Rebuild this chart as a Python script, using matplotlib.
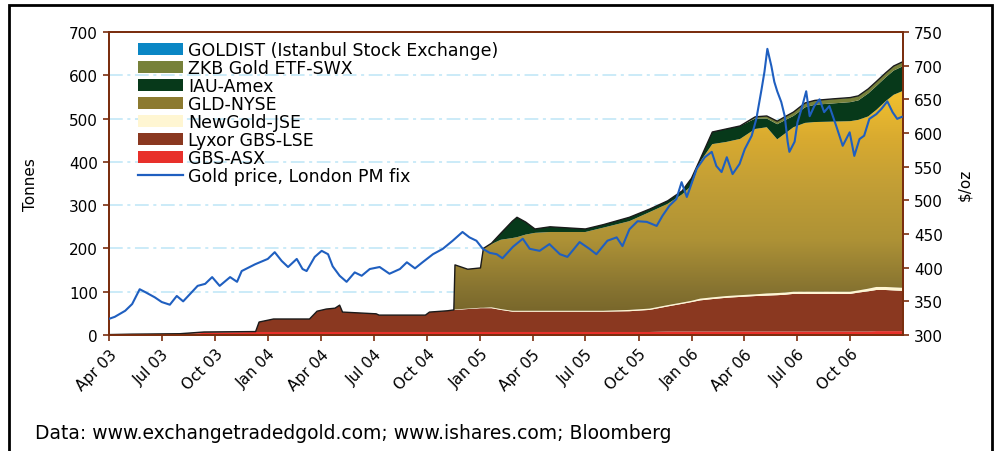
import numpy as np
import pandas as pd
import matplotlib
matplotlib.use("Agg")
import matplotlib.pyplot as plt
import matplotlib.dates as mdates
from matplotlib.colors import LinearSegmentedColormap
from matplotlib.patches import Patch, Rectangle
from matplotlib.lines import Line2D

# ETF holdings in tonnes
stack_dates = [
    "2003-04-01", "2003-05-10", "2003-08-01", "2003-09-12", "2003-12-10", "2003-12-16",
    "2004-01-10", "2004-03-12", "2004-03-25", "2004-04-10", "2004-04-25", "2004-05-03",
    "2004-05-08", "2004-07-05", "2004-07-10", "2004-09-28", "2004-10-05", "2004-11-05",
    "2004-11-16", "2004-11-18", "2004-12-10", "2005-01-01", "2005-01-06", "2005-01-20",
    "2005-02-05", "2005-02-25", "2005-03-05", "2005-03-20", "2005-04-05", "2005-05-01",
    "2005-07-01", "2005-08-01", "2005-09-15", "2005-10-20", "2005-11-20", "2005-12-15",
    "2005-12-31", "2006-01-15", "2006-02-05", "2006-03-01", "2006-03-25", "2006-04-20",
    "2006-05-10", "2006-05-28", "2006-06-10", "2006-06-25", "2006-07-15", "2006-08-01",
    "2006-09-01", "2006-10-01", "2006-10-15", "2006-11-01", "2006-11-15", "2006-12-01",
    "2006-12-15", "2006-12-31",
]
gbs_asx = [0, 0.5, 1, 5, 7, 7, 7, 7, 7, 7, 7, 7, 7, 7, 7, 7, 7, 7, 7, 7, 7, 7, 7, 7,
           7, 7, 7, 7, 7, 7, 7, 7, 7, 7, 8, 8, 8, 8, 8, 8, 8, 8, 8, 8, 8, 8, 8, 8,
           8, 8, 8, 8, 9, 9, 9, 9]
lyxor_lse = [1, 1.5, 2, 2, 1, 23, 30, 30, 48, 53, 55, 62, 46, 42, 39, 39, 46, 49, 51, 51,
             53, 55, 55, 55, 51, 47, 47, 47, 47, 47, 47, 47, 48, 51, 58, 64, 68, 72, 75, 78,
             80, 82, 83, 84, 85, 87, 87, 87, 87, 87, 90, 93, 95, 95, 94, 93]
newgold_jse = [0, 0, 0, 0, 0, 0, 0, 0, 0, 0, 0, 0, 0, 0, 0, 0, 0, 0, 0, 1, 1, 1, 1, 2,
               2, 2, 2, 2, 2, 2, 2, 2, 3, 3, 3, 3, 3, 4, 4, 4, 4, 4, 5, 5, 5, 5, 5, 5,
               5, 5, 5, 6, 7, 7, 7, 7]
gld_nyse = [0, 0, 0, 0, 0, 0, 0, 0, 0, 0, 0, 0, 0, 0, 0, 0, 0, 0, 0, 103, 91, 92, 137, 146,
            160, 168, 170, 176, 180, 182, 182, 192, 205, 223, 234, 250, 266, 316, 354, 356,
            361, 382, 384, 355, 367, 380, 390, 392, 393, 394, 394, 398, 409, 429, 445, 455]
iau_amex = [0, 0, 0, 0, 0, 0, 0, 0, 0, 0, 0, 0, 0, 0, 0, 0, 0, 0, 0, 0, 0, 0, 0, 2,
            15, 39, 46, 29, 9, 12, 7, 7, 9, 7, 7, 8, 17, 6, 28, 30, 30, 24, 20, 35, 31, 26,
            36, 40, 42, 44, 45, 53, 55, 55, 56, 57]
zkb_swx = [0, 0, 0, 0, 0, 0, 0, 0, 0, 0, 0, 0, 0, 0, 0, 0, 0, 0, 0, 0, 0, 0, 0, 0,
           0, 0, 0, 0, 0, 0, 0, 0, 0, 0, 0, 0, 0, 0, 0, 0, 0, 4, 6, 7, 8, 9, 10, 10,
           10, 10, 10, 10, 10, 10, 10, 10]
goldist = [0, 0, 0, 0, 0, 0, 0, 0, 0, 0, 0, 0, 0, 0, 0, 0, 0, 0, 0, 0, 0, 0, 0, 0,
           0, 0, 0, 0, 0, 0, 0, 0, 0, 0, 0, 0, 0, 0, 0, 0, 0, 0, 0, 0, 0, 0, 0, 0,
           0.5, 0.5, 0.5, 0.5, 0.5, 0.5, 0.5, 0.5]

# London PM fix, $/oz
price_dates = [
    "2003-04-01", "2003-04-11", "2003-04-29", "2003-05-11", "2003-05-24", "2003-06-02",
    "2003-06-19", "2003-07-01", "2003-07-15", "2003-07-27", "2003-08-07", "2003-08-19",
    "2003-09-01", "2003-09-14", "2003-09-26", "2003-10-09", "2003-10-27", "2003-11-08",
    "2003-11-16", "2003-12-09", "2003-12-31", "2004-01-12", "2004-01-24", "2004-02-04",
    "2004-02-19", "2004-02-29", "2004-03-07", "2004-03-21", "2004-04-02", "2004-04-13",
    "2004-04-21", "2004-05-03", "2004-05-15", "2004-05-29", "2004-06-10", "2004-06-24",
    "2004-07-11", "2004-07-28", "2004-08-15", "2004-08-27", "2004-09-10", "2004-09-23",
    "2004-10-11", "2004-10-28", "2004-11-14", "2004-12-01", "2004-12-13", "2004-12-25",
    "2005-01-05", "2005-01-17", "2005-01-29", "2005-02-08", "2005-02-26", "2005-03-15",
    "2005-03-27", "2005-04-13", "2005-04-30", "2005-05-18", "2005-05-31", "2005-06-21",
    "2005-07-08", "2005-07-20", "2005-08-08", "2005-08-24", "2005-09-03", "2005-09-15",
    "2005-09-29", "2005-10-15", "2005-11-01", "2005-11-11", "2005-11-23", "2005-12-05",
    "2005-12-14", "2005-12-23", "2005-12-28", "2006-01-09", "2006-01-23", "2006-02-04",
    "2006-02-12", "2006-02-21", "2006-03-02", "2006-03-12", "2006-03-24", "2006-04-02",
    "2006-04-14", "2006-04-22", "2006-05-01", "2006-05-06", "2006-05-11", "2006-05-18",
    "2006-05-23", "2006-05-28", "2006-06-04", "2006-06-10", "2006-06-15", "2006-06-18",
    "2006-06-27", "2006-07-02", "2006-07-09", "2006-07-17", "2006-07-23", "2006-07-31",
    "2006-08-09", "2006-08-17", "2006-08-26", "2006-09-07", "2006-09-18", "2006-09-30",
    "2006-10-08", "2006-10-17", "2006-10-25", "2006-11-03", "2006-11-15", "2006-11-24",
    "2006-12-04", "2006-12-13", "2006-12-21", "2006-12-29",
]
gold_price = [
    324, 327, 336, 346, 368, 364, 356, 349, 345, 358, 350, 361,
    373, 376, 386, 373, 386, 379, 395, 405, 413, 423, 410, 401,
    413, 398, 395, 416, 425, 420, 402, 388, 379, 393, 388, 398,
    401, 391, 398, 408, 399, 408, 420, 428, 440, 453, 445, 440,
    428, 422, 420, 414, 431, 443, 428, 425, 435, 420, 416, 438,
    428, 420, 440, 445, 432, 457, 469, 468, 462, 477, 492, 502,
    527, 505, 517, 547, 564, 572, 551, 542, 564, 539, 554, 576,
    596, 621, 665, 691, 725, 699, 676, 662, 646, 625, 587, 572,
    587, 616, 636, 662, 625, 640, 650, 631, 640, 610, 581, 601,
    566, 591, 596, 621, 628, 636, 647, 631, 621, 624,
]

tick_dates = ["2003-04-01", "2003-07-01", "2003-10-01", "2004-01-01", "2004-04-01",
              "2004-07-01", "2004-10-01", "2005-01-01", "2005-04-01", "2005-07-01",
              "2005-10-01", "2006-01-01", "2006-04-01", "2006-07-01", "2006-10-01"]
tick_labels = ["Apr 03", "Jul 03", "Oct 03", "Jan 04", "Apr 04", "Jul 04", "Oct 04",
               "Jan 05", "Apr 05", "Jul 05", "Oct 05", "Jan 06", "Apr 06", "Jul 06", "Oct 06"]

plt.rcParams["font.family"] = ["DejaVu Sans"]
BROWN = "#7A2E0E"

x = mdates.date2num(pd.to_datetime(stack_dates))
xp = mdates.date2num(pd.to_datetime(price_dates))
x0 = mdates.date2num(pd.Timestamp("2003-04-01"))
x1 = mdates.date2num(pd.Timestamp("2006-12-31"))

layers = [
    (gbs_asx, "#E8302A", "GBS-ASX"),
    (lyxor_lse, "#8A3820", "Lyxor GBS-LSE"),
    (newgold_jse, "#FFF6D2", "NewGold-JSE"),
    (gld_nyse, None, "GLD-NYSE"),
    (iau_amex, "#07391A", "IAU-Amex"),
    (zkb_swx, "#77813A", "ZKB Gold ETF-SWX"),
    (goldist, "#0A86C4", "GOLDIST (Istanbul Stock Exchange)"),
]

fig = plt.figure(figsize=(9.97, 4.52), dpi=100)
ax = fig.add_axes([0.1093, 0.2566, 0.7964, 0.6704])

gld_cmap = LinearSegmentedColormap.from_list("gld", [
    (0.0, "#6A5A25"), (100 / 700, "#857230"), (220 / 700, "#AE9236"),
    (360 / 700, "#C5A035"), (450 / 700, "#D8AA30"), (560 / 700, "#F2C02E"),
    (1.0, "#FFD02A"),
])

base = np.zeros(len(x))
for vals, color, name in layers:
    top = base + np.array(vals, dtype=float)
    if color is None:
        coll = ax.fill_between(x, base, top, facecolor="none", lw=0, zorder=2)
        grad = np.linspace(0, 1, 256).reshape(-1, 1)
        img = ax.imshow(grad, extent=[x0, x1, 0, 700], origin="lower", aspect="auto",
                        cmap=gld_cmap, zorder=2, interpolation="bilinear")
        img.set_clip_path(coll.get_paths()[0], transform=ax.transData)
    else:
        ax.fill_between(x, base, top, facecolor=color, lw=0, zorder=2)
    base = top

# dark outline along the total
ax.plot(x, base, color="#1A1A1A", lw=1.0, zorder=3)

ax.set_xlim(x0, x1)
ax.set_ylim(0, 700)
ax.set_yticks(range(0, 701, 100))
ax.set_ylabel("Tonnes", fontsize=11, labelpad=22)
for yv in range(100, 700, 100):
    ax.axhline(yv, color="#BDE5F7", lw=1.1, ls=(0, (9, 3, 2, 3)), zorder=1)

ax.set_xticks(mdates.date2num(pd.to_datetime(tick_dates)))
ax.set_xticklabels(tick_labels, rotation=45, ha="right", rotation_mode="anchor")

ax2 = ax.twinx()
ax2.plot(xp, gold_price, color="#1F5FC0", lw=1.5, zorder=5)
ax2.set_ylim(300, 750)
ax2.set_yticks(range(300, 751, 50))
ax2.set_ylabel("$/oz", fontsize=11, labelpad=10)

for a in (ax, ax2):
    for s in a.spines.values():
        s.set_color(BROWN)
        s.set_linewidth(1.3)
    a.tick_params(direction="out", length=4, width=1.2, color=BROWN,
                  labelsize=11, labelcolor="black", pad=4)

handles = [Patch(facecolor=c if c else "#8C7A30", edgecolor="none", label=n)
           for _, c, n in reversed(layers)]
handles.append(Line2D([], [], color="#1F5FC0", lw=1.6, label="Gold price, London PM fix"))
ax.legend(handles=handles, loc="upper left", bbox_to_anchor=(0.0365, 0.97),
          frameon=False, fontsize=12.5, borderaxespad=0, borderpad=0,
          handlelength=2.6, handleheight=0.75, handletextpad=0.3, labelspacing=0)

fig.text(0.035, 0.042, "Data: www.exchangetradedgold.com; www.ishares.com; Bloomberg",
         fontsize=13.5, va="center", ha="left")
fig.patches.append(Rectangle((0.009, -0.02), 0.986, 1.007, transform=fig.transFigure,
                             fill=False, edgecolor="black", lw=2))

fig.savefig("out.png", dpi=100)
